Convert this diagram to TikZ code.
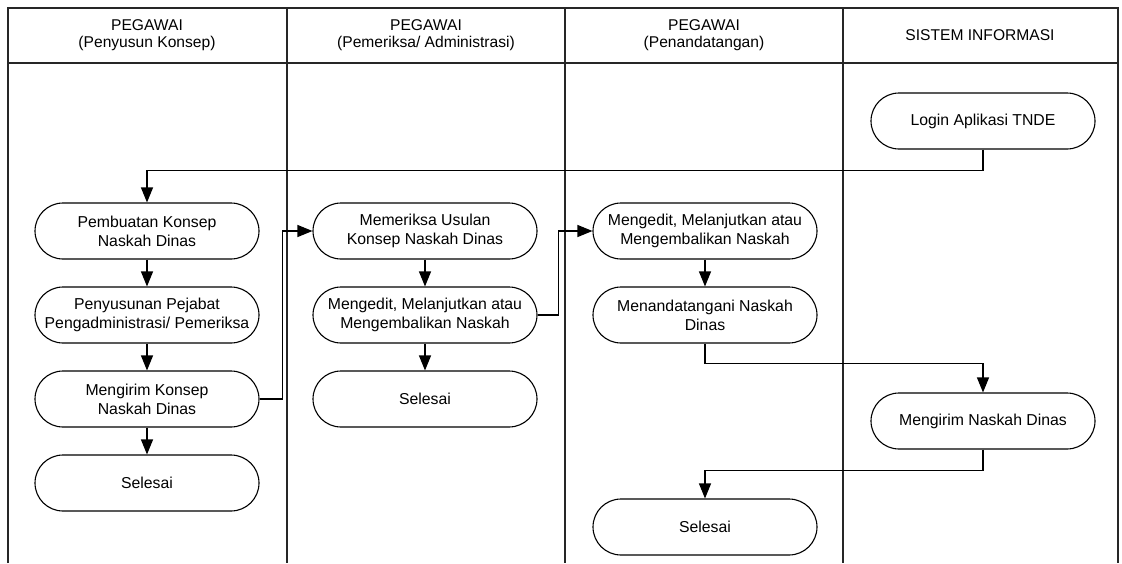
\documentclass[tikz,border=0pt]{standalone}
\usepackage{fontspec}
\setmainfont{Liberation Sans}
\usetikzlibrary{arrows.meta}

\begin{document}
\begin{tikzpicture}[x=1pt, y=-1pt]
            \tikzstyle{lane line} = [line width=1.1pt, draw=black!85]
            \tikzstyle{lane head} = [align=center, font=\fontsize{15.6}{16.5}\selectfont]
            \tikzstyle{process} = [draw, line width=1.1pt, rounded corners=28pt, minimum width=224pt, minimum height=56pt, inner sep=2pt, align=center, font=\fontsize{15.8}{19}\selectfont]
            \tikzstyle{flow} = [line width=1.1pt, -{Triangle[length=15pt, width=12pt]}]

            \useasboundingbox (0, 0) rectangle (1122, 563);

            % swimlanes
            \draw[lane line] (8, 563) -- (8, 8) -- (1118, 8) -- (1118, 563);
            \draw[lane line] (8, 63) -- (1118, 63);
            \foreach \x in {287, 565, 843}
                \draw[lane line] (\x, 8) -- (\x, 563);

            \node[lane head] (head a) at (147, 35) {PEGAWAI\\(Penyusun Konsep)};
            \node[lane head] (head b) at (426, 35) {PEGAWAI\\(Pemeriksa/ Administrasi)};
            \node[lane head] (head c) at (704, 35) {PEGAWAI\\(Penandatangan)};
            \node[lane head] (head d) at (980, 35) {SISTEM INFORMASI};

            % steps
            \node[process] (login) at (983, 121) {Login Aplikasi TNDE};
            \node[process] (buat) at (147, 231) {Pembuatan Konsep\\Naskah Dinas};
            \node[process] (susun) at (147, 315) {Penyusunan Pejabat\\Pengadministrasi/ Pemeriksa};
            \node[process] (kirim) at (147, 399) {Mengirim Konsep\\Naskah Dinas};
            \node[process] (selesai a) at (147, 483) {Selesai};
            \node[process] (periksa) at (425, 231) {Memeriksa Usulan\\Konsep Naskah Dinas};
            \node[process] (edit a) at (425, 315) {Mengedit, Melanjutkan atau\\Mengembalikan Naskah};
            \node[process] (selesai b) at (425, 399) {Selesai};
            \node[process] (edit b) at (705, 231) {Mengedit, Melanjutkan atau\\Mengembalikan Naskah};
            \node[process] (tanda) at (705, 315) {Menandatangani Naskah\\Dinas};
            \node[process] (kirim naskah) at (983, 421) {Mengirim Naskah Dinas};
            \node[process] (selesai c) at (705, 527) {Selesai};

            % flows
            \draw[flow] (login.south) -- ++(0, 21) -| (buat.north);
            \draw[flow] (buat) -- (susun);
            \draw[flow] (susun) -- (kirim);
            \draw[flow] (kirim) -- (selesai a);
            \draw[flow] (kirim.east) -- ++(23, 0) |- (periksa.west);
            \draw[flow] (periksa) -- (edit a);
            \draw[flow] (edit a) -- (selesai b);
            \draw[flow] (edit a.east) -- ++(21, 0) |- (edit b.west);
            \draw[flow] (edit b) -- (tanda);
            \draw[flow] (tanda.south) -- ++(0, 20) -| (kirim naskah.north);
            \draw[flow] (kirim naskah.south) -- ++(0, 21) -| (selesai c.north);
        \end{tikzpicture}
\end{document}
